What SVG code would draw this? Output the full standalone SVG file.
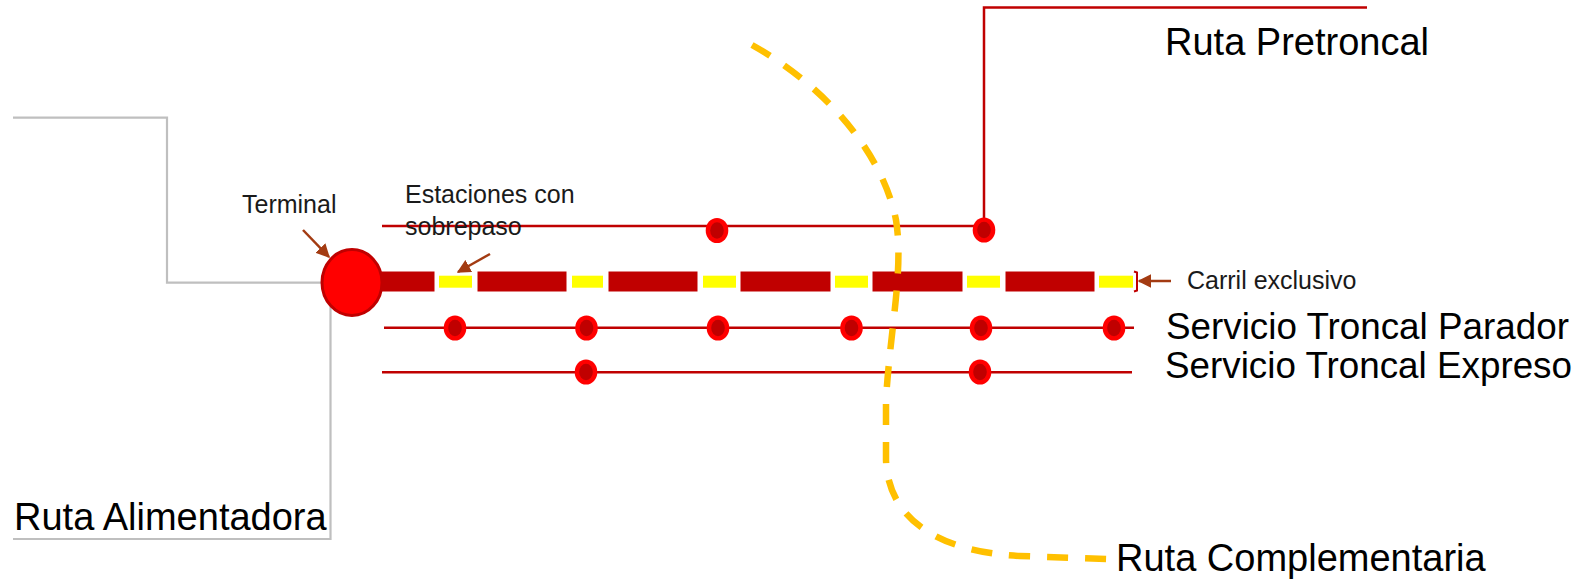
<svg xmlns="http://www.w3.org/2000/svg" width="1589" height="583" viewBox="0 0 1589 583">
<defs>
<style>
.gray{fill:none;stroke:#BFBFBF;stroke-width:2.2}
.route{fill:none;stroke:#C00000;stroke-width:2.5}
.comp{fill:none;stroke:#FFC000;stroke-width:6.5;stroke-dasharray:21 17}
.bar{fill:#C00000;stroke:#FFFFFF;stroke-width:1}
.lane{fill:#FFFF00}
.arrow{fill:none;stroke:#A33B12;stroke-width:2.5}
.small{font-family:"Liberation Sans",Arial,sans-serif;font-size:25px;fill:#1a1a1a}
.big{font-family:"Liberation Sans",Arial,sans-serif;font-size:38px;fill:#000}
.svc{font-family:"Liberation Sans",Arial,sans-serif;font-size:36.8px;fill:#000}
.dotO{fill:#FF0000}
.dotI{fill:#C00000}
</style>
<marker id="ah" viewBox="0 0 10 10" refX="9" refY="5" markerWidth="5.5" markerHeight="5.5" orient="auto" markerUnits="strokeWidth">
<path d="M0,0 L10,5 L0,10 z" fill="#A33B12"/>
</marker>
<g id="dot"><ellipse rx="11.3" ry="12.6" class="dotO"/><ellipse rx="6.8" ry="8.3" class="dotI"/></g>
</defs>
<rect width="1589" height="583" fill="#FFFFFF"/>

<g id="carril-exclusivo">
<rect class="bar" x="370" y="271" width="65" height="21"/>
<rect class="bar" x="477" y="271" width="90" height="21"/>
<rect class="bar" x="608" y="271" width="90" height="21"/>
<rect class="bar" x="740" y="271" width="91" height="21"/>
<rect class="bar" x="872" y="271" width="91" height="21"/>
<rect class="bar" x="1005" y="271" width="90" height="21"/>
<rect class="lane" x="439" y="275.7" width="33" height="12"/>
<rect class="lane" x="572" y="275.7" width="31" height="12"/>
<rect class="lane" x="703" y="275.7" width="33" height="12"/>
<rect class="lane" x="835" y="275.7" width="33" height="12"/>
<rect class="lane" x="967" y="275.7" width="33" height="12"/>
<rect class="lane" x="1099" y="275.7" width="34" height="12"/>
<path d="M1134,271.5 L1137,272.5 L1137,290.5 L1134,291.5" fill="none" stroke="#C00000" stroke-width="2"/>
</g>

<g id="connectors">
<polyline id="ruta-alimentadora-line-top" class="gray" points="13,117.7 167,117.7 167,282.7 321,282.7"/>
<polyline id="ruta-alimentadora-line-bottom" class="gray" points="330.5,307 330.5,539 13,539"/>
<polyline id="ruta-pretroncal-line" class="route" points="382,226 984,226 984,7.5 1367,7.5"/>
<line id="parador-line" class="route" x1="384" y1="327.7" x2="1134" y2="327.7"/>
<line id="expreso-line" class="route" x1="382" y1="372.3" x2="1132" y2="372.3"/>
<path id="ruta-complementaria-line" class="comp" d="M752,45 C822,84 882,150 896,220 C904,270 890,330 886,400 L886,460 C888,520 940,552 1020,556 L1107,559"/>
<line id="terminal-arrow" class="arrow" x1="303" y1="230" x2="329" y2="257" marker-end="url(#ah)"/>
<line id="sobrepaso-arrow" class="arrow" x1="490" y1="254" x2="458" y2="272" marker-end="url(#ah)"/>
<line id="carril-arrow" class="arrow" x1="1171" y1="281" x2="1139" y2="281" marker-end="url(#ah)"/>
</g>

<g id="terminal">
<ellipse cx="352" cy="282.5" rx="30" ry="33" fill="#FF0000" stroke="#C00000" stroke-width="3"/>
</g>

<g id="stations-pretroncal">
<use href="#dot" x="717" y="230.5"/>
<use href="#dot" x="984" y="230"/>
</g>
<g id="stations-parador">
<use href="#dot" x="455" y="328"/>
<use href="#dot" x="586.5" y="328"/>
<use href="#dot" x="718" y="328"/>
<use href="#dot" x="851.5" y="328"/>
<use href="#dot" x="981" y="328"/>
<use href="#dot" x="1114" y="328"/>
</g>
<g id="stations-expreso">
<use href="#dot" x="586" y="372"/>
<use href="#dot" x="980" y="372"/>
</g>

<g id="labels">
<text id="label-terminal" class="small" x="242" y="213" font-size="25.5">Terminal</text>
<text id="label-estaciones" class="small" x="405" y="203" font-size="22.8">Estaciones con</text>
<text id="label-sobrepaso" class="small" x="405" y="235" font-size="24.8">sobrepaso</text>
<text id="label-carril" class="small" x="1187" y="289">Carril exclusivo</text>
<text id="label-pretroncal" class="big" x="1165" y="55" font-size="37.8">Ruta Pretroncal</text>
<text id="label-parador" class="svc" x="1166" y="339">Servicio Troncal Parador</text>
<text id="label-expreso" class="svc" x="1165" y="378">Servicio Troncal Expreso</text>
<text id="label-alimentadora" class="big" x="14" y="530" font-size="38.8">Ruta Alimentadora</text>
<text id="label-complementaria" class="big" x="1116" y="571" font-size="38.2">Ruta Complementaria</text>
</g>
</svg>
